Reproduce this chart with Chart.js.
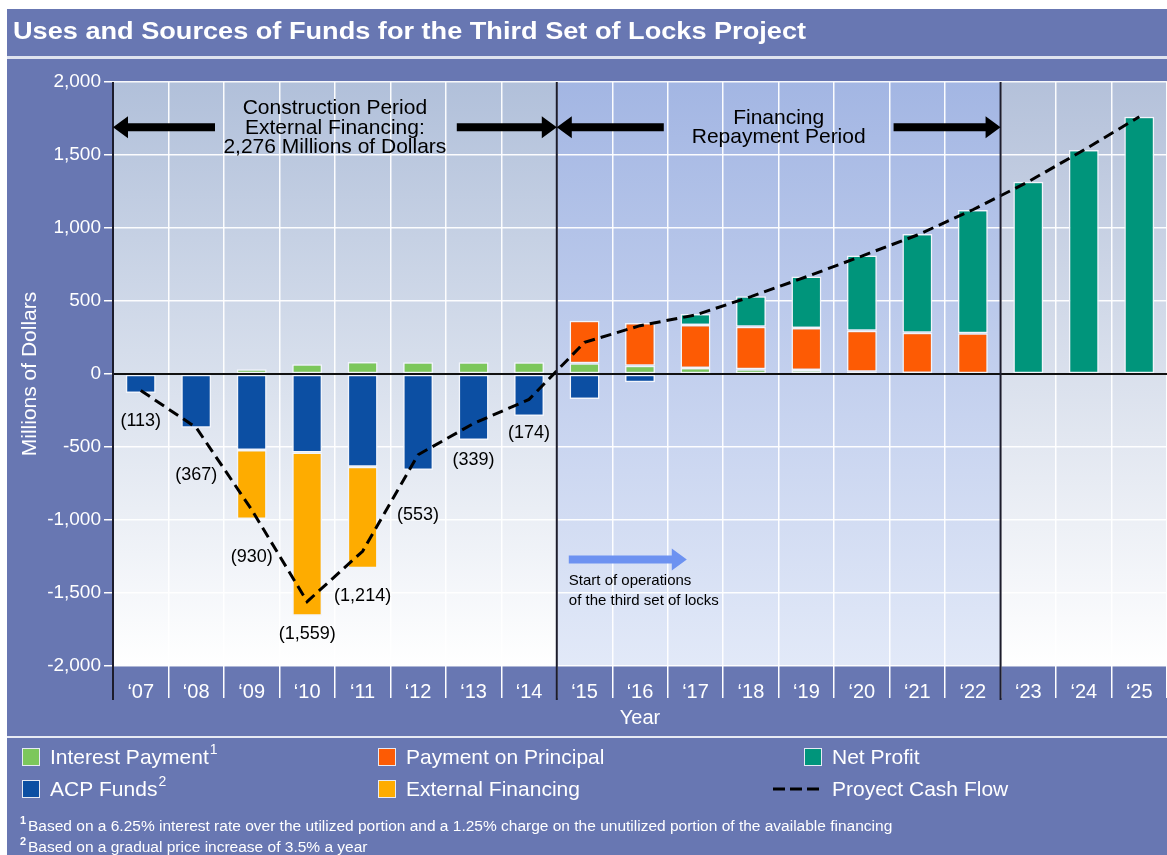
<!DOCTYPE html>
<html>
<head>
<meta charset="utf-8">
<script src="https://cdn.jsdelivr.net/npm/chart.js@4.4.1/dist/chart.umd.min.js"></script>
<style>
  html, body { margin: 0; padding: 0; background: #fff; }
  canvas { display: block; }
</style>
</head>
<body>
<canvas id="chart" width="1167" height="855"></canvas>
<script>
// Data (millions of dollars)
const years = ['‘07', '‘08', '‘09', '‘10', '‘11', '‘12', '‘13', '‘14', '‘15', '‘16',
               '‘17', '‘18', '‘19', '‘20', '‘21', '‘22', '‘23', '‘24', '‘25'];
const interestPayment = [null, null, 32, 66, 82, 80, 80, 80, 73, 57, 41, 32, 27, 16, 6, null, null, null, null];
const acpFunds = [-130, -368, -521, -537, -635, -658, -452, -288, -171, -57, null, null, null, null, null, null, null, null, null];
const principalPayment = [null, null, null, null, null, null, null, null, 292, 292, 295, 292, 288, 281, 277, 279, null, null, null];
const externalFinancing = [null, null, -472, -1118, -696, null, null, null, null, null, null, null, null, null, null, null, null, null, null];
const netProfit = [null, null, null, null, null, null, null, null, null, null, 75, 208, 352, 514, 676, 845, 1317, 1534, 1762];
const cashFlow = [-113, -367, -930, -1559, -1214, -553, -339, -174, 217, 331, 404, 530, 666, 808, 952, 1125, 1317, 1534, 1762];

const title = 'Uses and Sources of Funds for the Third Set of Locks Project';
const footnotes = [
    ['1', 'Based on a 6.25% interest rate over the utilized portion and a 1.25% charge on the unutilized portion of the available financing'],
    ['2', 'Based on a gradual price increase of 3.5% a year']
];
const legendRows = [
    ['Interest Payment', 'Payment on Principal', 'Net Profit'],
    ['ACP Funds', 'External Financing', 'Proyect Cash Flow']
];
const legendNotes = { 'Interest Payment': '1', 'ACP Funds': '2' };

const FONT = "'Liberation Sans', Arial, sans-serif";
const PANEL = '#6877b2';

// boundary between category i and i+1
function edge(x, i) {
    return (x.getPixelForValue(i) + x.getPixelForValue(i + 1)) / 2;
}

function arrow(ctx, tail, tip, yc, shaft, head, headLen, color) {
    const dir = tip > tail ? 1 : -1;
    const base = tip - dir * headLen;
    ctx.fillStyle = color;
    ctx.beginPath();
    ctx.moveTo(tail, yc - shaft / 2);
    ctx.lineTo(base, yc - shaft / 2);
    ctx.lineTo(base, yc - head / 2);
    ctx.lineTo(tip, yc);
    ctx.lineTo(base, yc + head / 2);
    ctx.lineTo(base, yc + shaft / 2);
    ctx.lineTo(tail, yc + shaft / 2);
    ctx.closePath();
    ctx.fill();
}

// text stretched horizontally to a target width
function wideText(ctx, text, x, y, width) {
    const w = ctx.measureText(text).width;
    ctx.save();
    ctx.translate(x, y);
    ctx.scale(width / w, 1);
    ctx.fillText(text, 0, 0);
    ctx.restore();
}

const decor = {
    id: 'decor',
    beforeDraw(chart) {
        const { ctx, chartArea: a, scales: { x } } = chart;
        const W = chart.width, H = chart.height;
        ctx.save();
        ctx.fillStyle = '#ffffff';
        ctx.fillRect(0, 0, W, H);
        ctx.fillStyle = PANEL;
        ctx.fillRect(7, 9, W - 7, 47);
        ctx.fillRect(7, 59, W - 7, 677);
        ctx.fillRect(7, 738, W - 7, H - 738);
        ctx.fillStyle = '#dfe3ef';
        ctx.fillRect(7, 56, W - 7, 3);
        ctx.fillStyle = '#e8ebf4';
        ctx.fillRect(7, 736, W - 7, 2);

        ctx.fillStyle = '#ffffff';
        ctx.font = `bold 24px ${FONT}`;
        ctx.textBaseline = 'middle';
        wideText(ctx, title, 13, 32, 793);

        // shaded periods behind the plot
        const b1 = edge(x, 7), b2 = edge(x, 15);
        const zones = [
            [a.left, b1, '#b1c0da', '#ffffff'],
            [b1, b2, '#a3b6e3', '#e2e9f8'],
            [b2, a.right, '#b4c1da', '#ffffff']
        ];
        zones.forEach(([l, r, c1, c2]) => {
            const g = ctx.createLinearGradient(0, a.top, 0, a.bottom);
            g.addColorStop(0, c1);
            g.addColorStop(1, c2);
            ctx.fillStyle = g;
            ctx.fillRect(l, a.top, r - l, a.bottom - a.top);
        });
        ctx.restore();
    },
    beforeDatasetDraw(chart, args) {
        if (args.meta.type !== 'line') return;
        const { ctx, chartArea: a, scales: { y } } = chart;
        const y0 = Math.round(y.getPixelForValue(0));
        ctx.save();
        ctx.strokeStyle = '#111';
        ctx.lineWidth = 2;
        ctx.beginPath();
        ctx.moveTo(a.left, y0);
        ctx.lineTo(a.right, y0);
        ctx.stroke();
        ctx.restore();
    },
    afterDatasetsDraw(chart) {
        const { ctx, chartArea: a, scales: { x, y } } = chart;
        const b1 = edge(x, 7), b2 = edge(x, 15);
        ctx.save();

        // period dividers
        ctx.strokeStyle = '#1c1c2c';
        ctx.lineWidth = 2;
        [a.left, b1, b2].forEach(px => {
            ctx.beginPath();
            ctx.moveTo(px, a.top);
            ctx.lineTo(px, 700);
            ctx.stroke();
        });

        // period arrows and captions
        const ya = y.getPixelForValue(1690);
        arrow(ctx, a.left + 102, a.left, ya, 8, 22, 15, '#000');
        arrow(ctx, b1 - 100, b1, ya, 8, 22, 15, '#000');
        arrow(ctx, b1 + 107, b1, ya, 8, 22, 15, '#000');
        arrow(ctx, b2 - 107, b2, ya, 8, 22, 15, '#000');

        ctx.fillStyle = '#000';
        ctx.font = `21px ${FONT}`;
        ctx.textAlign = 'center';
        ctx.textBaseline = 'middle';
        const c1 = (a.left + b1) / 2, c2 = (b1 + b2) / 2;
        ctx.fillText('Construction Period', c1, ya - 19);
        ctx.fillText('External Financing:', c1, ya + 0.5);
        ctx.fillText('2,276 Millions of Dollars', c1, ya + 20);
        ctx.fillText('Financing', c2, ya - 9.5);
        ctx.fillText('Repayment Period', c2, ya + 10);

        // start of operations
        const yb = y.getPixelForValue(-1270);
        arrow(ctx, b1 + 12, b1 + 130, yb, 8, 22, 15, '#6d92f1');
        ctx.fillStyle = '#000';
        ctx.font = `15px ${FONT}`;
        ctx.textAlign = 'left';
        ctx.fillText('Start of operations', b1 + 12, yb + 21);
        ctx.fillText('of the third set of locks', b1 + 12, yb + 41);

        // cash flow labels for the negative years
        const labelDy = [31, 47, 47, 32, 45, 60, 37, 34];
        ctx.font = `18px ${FONT}`;
        ctx.textAlign = 'center';
        cashFlow.forEach((v, i) => {
            if (v >= 0) return;
            const txt = '(' + Math.abs(v).toLocaleString('en-US') + ')';
            ctx.fillText(txt, x.getPixelForValue(i), y.getPixelForValue(v) + labelDy[i]);
        });

        // x axis title
        ctx.fillStyle = '#ffffff';
        ctx.font = `20px ${FONT}`;
        ctx.fillText('Year', (a.left + a.right) / 2, 718);
        ctx.restore();
    },
    afterDraw(chart) {
        const { ctx } = chart;
        const sets = chart.data.datasets;
        const colX = [22, 378, 804];
        const rowY = [757, 789];
        ctx.save();
        ctx.textBaseline = 'middle';
        ctx.textAlign = 'left';
        legendRows.forEach((row, r) => {
            row.forEach((label, c) => {
                const ds = sets.find(d => d.label === label);
                const sx = colX[c], sy = rowY[r];
                if (ds.type === 'line') {
                    ctx.strokeStyle = '#000';
                    ctx.lineWidth = 3;
                    ctx.setLineDash([12, 5]);
                    ctx.beginPath();
                    ctx.moveTo(sx - 31, sy);
                    ctx.lineTo(sx + 18, sy);
                    ctx.stroke();
                    ctx.setLineDash([]);
                } else {
                    ctx.fillStyle = ds.backgroundColor;
                    ctx.fillRect(sx, sy - 9, 18, 18);
                    ctx.strokeStyle = '#e6eaf4';
                    ctx.lineWidth = 1;
                    ctx.strokeRect(sx + 0.5, sy - 8.5, 17, 17);
                }
                ctx.fillStyle = '#ffffff';
                ctx.font = `21px ${FONT}`;
                ctx.fillText(label, sx + 28, sy + 1);
                const note = legendNotes[label];
                if (note) {
                    const w = ctx.measureText(label).width;
                    ctx.font = `14px ${FONT}`;
                    ctx.fillText(note, sx + 29 + w, sy - 7);
                }
            });
        });

        footnotes.forEach(([mark, text], i) => {
            const fy = 827 + i * 21;
            ctx.fillStyle = '#ffffff';
            ctx.font = `bold 11px ${FONT}`;
            ctx.fillText(mark, 20, fy - 6);
            ctx.font = `15.5px ${FONT}`;
            ctx.fillText(text, 28, fy);
        });
        ctx.restore();
    }
};

function bar(label, data, color) {
    return {
        label: label,
        data: data,
        backgroundColor: color,
        borderColor: '#f2f5fb',
        borderWidth: 1.5,
        borderSkipped: false,
        barPercentage: 0.54,
        categoryPercentage: 1,
        order: 1
    };
}

new Chart(document.getElementById('chart'), {
    type: 'bar',
    data: {
        labels: years,
        datasets: [
            bar('Interest Payment', interestPayment, '#7cc75b'),
            bar('ACP Funds', acpFunds, '#0c4fa3'),
            bar('Payment on Principal', principalPayment, '#fd5b04'),
            bar('External Financing', externalFinancing, '#feac00'),
            bar('Net Profit', netProfit, '#00957b'),
            {
                type: 'line',
                label: 'Proyect Cash Flow',
                data: cashFlow,
                stack: 'cashflow',
                borderColor: '#000',
                borderWidth: 3,
                borderDash: [11, 6],
                pointRadius: 0,
                tension: 0,
                fill: false,
                order: 0
            }
        ]
    },
    options: {
        responsive: false,
        animation: false,
        layout: { padding: { top: 82, left: 0, right: 0, bottom: 0 } },
        plugins: {
            legend: { display: false },
            tooltip: { enabled: false }
        },
        scales: {
            x: {
                stacked: true,
                offset: true,
                grid: { offset: true, color: 'rgba(255,255,255,0.95)', lineWidth: 1.5, tickLength: 32, tickColor: '#ffffff' },
                border: { display: false },
                ticks: { color: '#ffffff', font: { family: FONT, size: 20 }, padding: -18, maxRotation: 0, autoSkip: false },
                afterFit(s) { s.height = 189; }
            },
            y: {
                stacked: true,
                min: -2000,
                max: 2000,
                ticks: {
                    stepSize: 500,
                    color: '#ffffff',
                    font: { family: FONT, size: 19 },
                    padding: 3,
                    callback: v => v.toLocaleString('en-US')
                },
                grid: { color: 'rgba(255,255,255,0.95)', lineWidth: 1.5, tickLength: 9, tickColor: '#ffffff' },
                border: { display: false },
                title: {
                    display: true,
                    text: 'Millions of Dollars',
                    color: '#ffffff',
                    font: { family: FONT, size: 21 },
                    padding: { top: 18, bottom: 0 }
                },
                afterFit(s) { s.width = 113; }
            }
        }
    },
    plugins: [decor]
});
</script>
</body>
</html>
